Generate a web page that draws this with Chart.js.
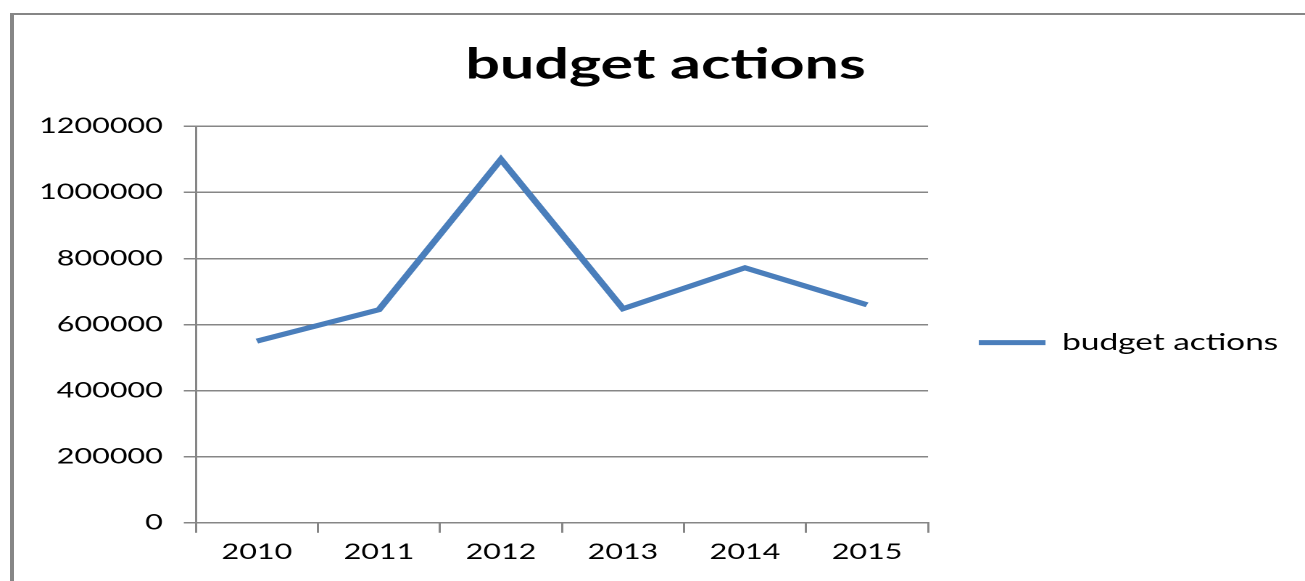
<!DOCTYPE html>
<html>
<head>
<meta charset="utf-8">
<script src="https://cdn.jsdelivr.net/npm/chart.js@4"></script>
<style>
  body { margin: 0; background: #fff; width: 1305px; height: 581px; overflow: hidden; position: relative; }
  #frame {
    position: absolute; left: 10px; top: 13px; width: 1300px; height: 575px;
    border-top: 2px solid #868686; border-left: 4px solid #868686;
  }
  /* the original picture is stretched sideways, so draw narrow and scale */
  #chart {
    position: absolute; left: 0; top: 0; width: 900px; height: 581px;
    transform: scaleX(1.45); transform-origin: 0 0;
  }
</style>
</head>
<body>
<div id="frame"></div>
<canvas id="chart" width="900" height="581"></canvas>
<script>
const years = ['2010', '2011', '2012', '2013', '2014', '2015'];
const budgetActions = [550000, 645000, 1100000, 648000, 772000, 660000];
const yMin = 0;
const yMax = 1200000;
const yStep = 200000;

const gridGray = '#868686';
const lineBlue = '#4A7EBB';
const fontFamily = 'Lato';

// small shifts so the title and legend sit where Excel put them
const nudge = {
  id: 'nudge',
  afterLayout(chart) {
    chart.titleBlock.left += 7;
    chart.titleBlock.right += 7;
    chart.legend.top += 18;
    chart.legend.bottom += 18;
  }
};

const ctx = document.getElementById('chart').getContext('2d');
const chart = new Chart(ctx, {
  type: 'line',
  data: {
    labels: years,
    datasets: [{
      label: 'budget actions',
      data: budgetActions,
      borderColor: lineBlue,
      backgroundColor: lineBlue,
      borderWidth: 5,
      pointRadius: 0,
      tension: 0,
      fill: false
    }]
  },
  plugins: [nudge],
  options: {
    responsive: false,
    animation: false,
    devicePixelRatio: 2,
    layout: {
      padding: { left: 12.5, right: 8.5, top: 0, bottom: 9 }
    },
    plugins: {
      title: {
        display: true,
        text: 'budget actions',
        color: '#000',
        font: { family: fontFamily, size: 42, weight: 'bold' },
        padding: { top: 40, bottom: 36 }
      },
      legend: {
        position: 'right',
        fullSize: false,
        maxWidth: 300,
        labels: {
          usePointStyle: true,
          pointStyle: 'line',
          pointStyleWidth: 46,
          boxWidth: 46,
          padding: 35,
          color: '#000',
          font: { family: fontFamily, size: 23 }
        }
      },
      tooltip: { enabled: false }
    },
    scales: {
      x: {
        offset: true,
        grid: {
          offset: true,
          drawOnChartArea: false,
          drawTicks: true,
          tickLength: 10,
          color: gridGray,
          lineWidth: 1.5
        },
        border: { display: true, color: gridGray, width: 1.5 },
        ticks: {
          color: '#000',
          padding: 7,
          font: { family: fontFamily, size: 21 }
        }
      },
      y: {
        min: yMin,
        max: yMax,
        grid: {
          drawOnChartArea: true,
          drawTicks: true,
          tickLength: 8.3,
          color: gridGray,
          lineWidth: 1.5
        },
        border: { display: true, color: gridGray, width: 1.5 },
        ticks: {
          stepSize: yStep,
          color: '#000',
          padding: 14.5,
          font: { family: fontFamily, size: 21 },
          callback: value => String(value)
        }
      }
    }
  }
});
</script>
</body>
</html>
